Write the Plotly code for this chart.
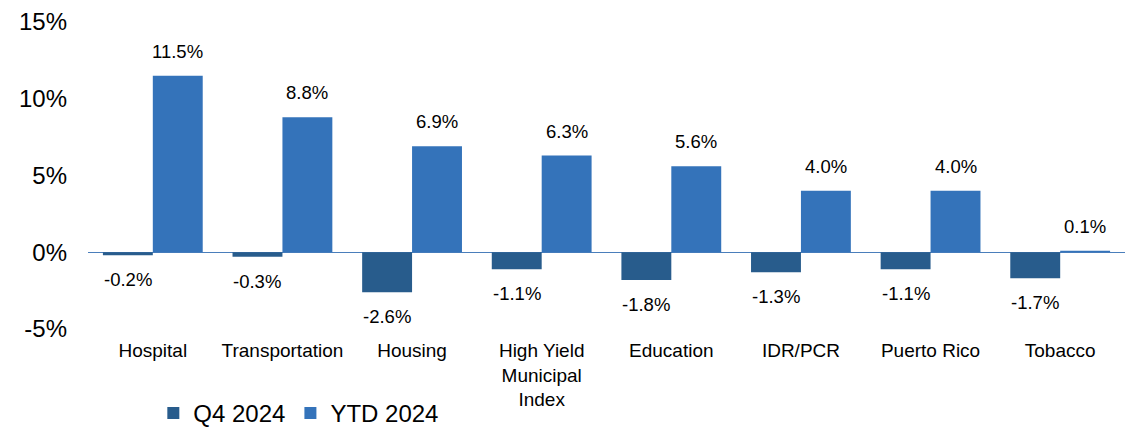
import plotly.graph_objects as go

categories = ["Hospital", "Transportation", "Housing", "High Yield<br>Municipal<br>Index",
              "Education", "IDR/PCR", "Puerto Rico", "Tobacco"]
q4_2024 = [-0.2, -0.3, -2.6, -1.1, -1.8, -1.3, -1.1, -1.7]
ytd_2024 = [11.5, 8.8, 6.9, 6.3, 5.6, 4.0, 4.0, 0.1]
y_ticks = [-5, 0, 5, 10, 15]
y_tick_labels = ["-5%", "0%", "5%", "10%", "15%"]

C_Q4 = "#285C8C"
C_YTD = "#3473BA"
FONT = "Liberation Sans, Arial, sans-serif"

fig = go.Figure()
fig.add_trace(go.Bar(name="Q4 2024", x=categories, y=q4_2024, marker_color=C_Q4,
                     marker_line_width=0, hoverinfo="skip"))
fig.add_trace(go.Bar(name="YTD 2024", x=categories, y=ytd_2024, marker_color=C_YTD,
                     marker_line_width=0, hoverinfo="skip"))

annotations = []
for series, xs in ((q4_2024, -25), (ytd_2024, 25)):
    for c, v in zip(categories, series):
        annotations.append(dict(
            x=c, y=v, xref="x", yref="y", text=f"{v:.1f}%", showarrow=False,
            xshift=xs, yshift=(12 if v >= 0 else -12),
            yanchor=("bottom" if v >= 0 else "top"),
            font=dict(size=18.5, color="#000000", family=FONT)))

fig.update_layout(
    width=1140, height=427,
    margin=dict(l=88, r=15, t=22, b=98, autoexpand=False),
    paper_bgcolor="white", plot_bgcolor="white",
    barmode="group", bargap=0.23, bargroupgap=0,
    font=dict(family=FONT, color="#000000"),
    annotations=annotations,
    showlegend=True,
    legend=dict(orientation="h", x=0.063, xref="paper", y=-0.275, yanchor="middle",
                font=dict(size=24, family=FONT, color="#000000"),
                itemwidth=30, tracegroupgap=0, bgcolor="rgba(0,0,0,0)"),
    xaxis=dict(showline=False, ticks="", showgrid=False, automargin=False,
               tickfont=dict(size=19, family=FONT, color="#000000"),
               ticklabelstandoff=8),
    yaxis=dict(range=[-5, 15], tickvals=y_ticks, ticktext=y_tick_labels,
               showgrid=False, showline=False, ticks="", automargin=False,
               zeroline=True, zerolinecolor="#4A7EBB", zerolinewidth=1.5,
               tickfont=dict(size=24, family=FONT, color="#000000"),
               ticklabelstandoff=20),
    hovermode=False,
)

fig.write_html("out.html",
               config={"displayModeBar": False, "staticPlot": True},
               post_script="document.body.style.margin='0';document.body.style.overflow='hidden';")
